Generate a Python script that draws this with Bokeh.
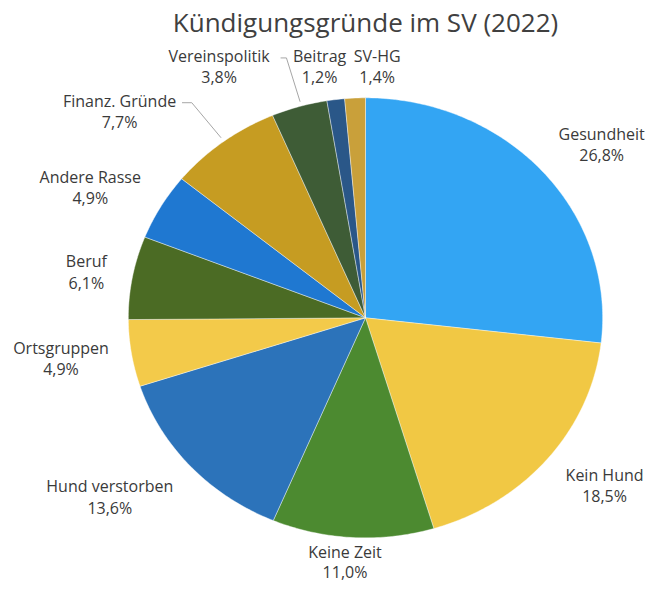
import numpy as np
from bokeh.plotting import figure
from bokeh.models import ColumnDataSource, Range1d
from bokeh.core.properties import value
from bokeh.embed import file_html
from bokeh.resources import INLINE

# ---- data ----
categories = ["Gesundheit", "Kein Hund", "Keine Zeit", "Hund verstorben", "Ortsgruppen",
              "Beruf", "Andere Rasse", "Finanz. Gründe", "Vereinspolitik", "Beitrag", "SV-HG"]
shares = [26.8, 18.5, 11.0, 13.6, 4.9, 6.1, 4.9, 7.7, 3.8, 1.2, 1.4]
pct_labels = ["26,8%", "18,5%", "11,0%", "13,6%", "4,9%", "6,1%", "4,9%", "7,7%", "3,8%", "1,2%", "1,4%"]
title_text = "Kündigungsgründe im SV (2022)"

# ---- style ----
colors = ["#33A5F3", "#F1C844", "#4C8A30", "#2C73BA", "#F3CA4A", "#4B6B24",
          "#1F78D1", "#C69C22", "#3E5C36", "#2A5788", "#C9A03A"]
# label positions (reference pixel coordinates, centre x, first line y)
label_x = [616, 619, 353, 112, 62, 88, 92, 122, 224, 327, 386]
label_y = [137, 487, 567, 499, 357, 268, 181, 103, 57, 57, 57]
gaps = [22, 22, 20, 22, 22, 22, 22, 22, 22, 22, 22]

cx, cy, rx, ry = 374, 326, 243, 226

W, H = 648, 586
p = figure(width=W, height=H, output_backend="svg", toolbar_location=None,
           x_range=Range1d(0, 664), y_range=Range1d(602, 0),
           min_border=0, outline_line_color=None)
p.axis.visible = False
p.grid.visible = False
p.background_fill_color = "white"
p.border_fill_color = "white"

vals = np.array(shares, dtype=float)
frac = vals / vals.sum()
ends = np.cumsum(frac) * 2 * np.pi
starts = np.concatenate([[0.0], ends[:-1]])

xs, ys = [], []
for a0, a1 in zip(starts, ends):
    t = np.linspace(a0, a1, max(4, int((a1 - a0) * 80)))
    xs.append([cx] + list(cx + rx * np.sin(t)) + [cx])
    ys.append([cy] + list(cy - ry * np.cos(t)) + [cy])

src = ColumnDataSource(dict(xs=xs, ys=ys, color=colors, name=categories))
p.patches("xs", "ys", source=src, fill_color="color", line_color="white",
          line_alpha=0.5, line_width=0.8)

# leader lines
p.line([186, 196, 226], [105, 105, 141], line_color="#A6A6A6", line_width=1)
p.line([287, 293, 307], [59, 59, 104], line_color="#A6A6A6", line_width=1)

lab = ColumnDataSource(dict(x=label_x, y1=label_y, y2=[v + g for v, g in zip(label_y, gaps)],
                            t1=categories, t2=pct_labels))
common = dict(text_font=value("Open Sans"), text_font_size="16px", text_color="#3A3A3A",
              text_align="center", text_baseline="middle")
p.text("x", "y1", text="t1", source=lab, **common)
p.text("x", "y2", text="t2", source=lab, **common)

p.text(x=[374], y=[22], text=[title_text], text_font=value("Open Sans"),
       text_font_size="26px", text_color="#404040", text_align="center",
       text_baseline="middle")

open("out.html", "w").write(file_html(p, INLINE))
